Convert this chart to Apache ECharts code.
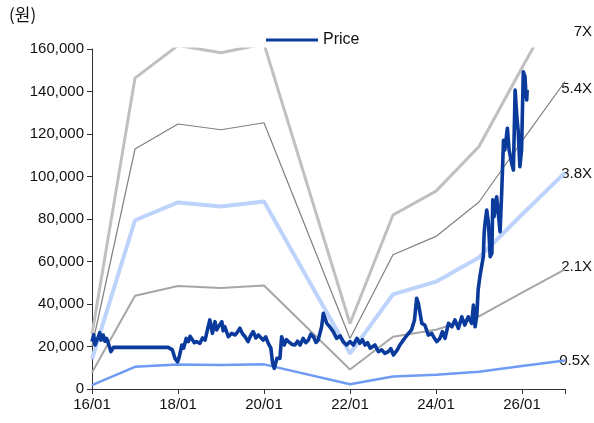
<!DOCTYPE html>
<html>
<head>
<meta charset="utf-8">
<script src="https://cdn.jsdelivr.net/npm/echarts@6/dist/echarts.min.js"></script>
<style>html,body{margin:0;padding:0;background:#fff}#c{width:594px;height:423px}</style>
</head>
<body>
<div id="c"></div>
<script>
// Band anchor dates (decimal year, Jan of each year)
const bandYears = [2016, 2017, 2018, 2019, 2020, 2022, 2023, 2024, 2025, 2026, 2027];
const band7x  = [25900, 146300, 161700, 158200, 162400, 30800, 81900, 93100, 114100, 151200, 187600];
const band54x = [20000, 112900, 124700, 122000, 125300, 23800, 63200, 71800, 88000, 116600, 144700];
const band38x = [14100, 79400, 87800, 85900, 88200, 16700, 44500, 50500, 61900, 82100, 101800];
const band21x = [7800, 43900, 48500, 47500, 48700, 9200, 24600, 27900, 34200, 45400, 56300];
const band05x = [1850, 10450, 11550, 11300, 11600, 2200, 5850, 6650, 8150, 10800, 13400];
const bandLabels = ['7X', '5.4X', '3.8X', '2.1X', '0.5X'];

// Price (decimal year, won)
const priceDates = [2016.00,2016.04,2016.07,2016.11,2016.15,2016.18,2016.21,2016.26,2016.30,2016.34,2016.38,2016.44,2016.50,2017.77,2017.87,2017.93,2017.99,2018.03,2018.09,2018.13,2018.19,2018.24,2018.28,2018.32,2018.38,2018.43,2018.51,2018.57,2018.63,2018.68,2018.74,2018.80,2018.86,2018.90,2018.94,2019.02,2019.05,2019.09,2019.17,2019.25,2019.33,2019.39,2019.44,2019.50,2019.56,2019.63,2019.69,2019.75,2019.81,2019.87,2019.98,2020.04,2020.10,2020.16,2020.20,2020.24,2020.30,2020.37,2020.41,2020.47,2020.52,2020.57,2020.65,2020.72,2020.78,2020.84,2020.91,2020.97,2021.03,2021.09,2021.15,2021.21,2021.26,2021.34,2021.38,2021.46,2021.53,2021.61,2021.69,2021.77,2021.84,2021.92,2022.00,2022.08,2022.16,2022.23,2022.29,2022.35,2022.41,2022.47,2022.58,2022.66,2022.74,2022.81,2022.89,2022.95,2023.01,2023.10,2023.16,2023.24,2023.33,2023.43,2023.50,2023.55,2023.59,2023.67,2023.74,2023.82,2023.90,2023.96,2024.02,2024.09,2024.15,2024.21,2024.29,2024.37,2024.44,2024.52,2024.60,2024.67,2024.75,2024.83,2024.87,2024.91,2024.95,2024.98,2025.02,2025.06,2025.10,2025.12,2025.14,2025.18,2025.22,2025.26,2025.30,2025.32,2025.35,2025.41,2025.49,2025.53,2025.57,2025.60,2025.66,2025.70,2025.76,2025.80,2025.84,2025.88,2025.91,2025.95,2025.99,2026.03,2026.07,2026.09,2026.11,2026.12];
const priceValues = [22300,25500,20700,22800,24600,26500,23000,25400,22500,23800,21500,17600,19600,19600,18400,14400,12800,15200,20700,19200,23800,22300,24800,24600,21800,22300,21500,24000,23000,27500,32500,26200,31700,27800,29300,31700,27400,29300,24600,26200,25400,27000,28600,26000,24600,22300,25200,27000,24000,25400,23000,24500,21500,19200,12100,9700,14400,14400,24600,20700,23200,22300,21000,20700,22500,20700,23800,21800,23000,25800,24600,21900,23000,29300,35600,30900,29300,27000,23800,25000,22300,20700,22300,20700,23800,21500,23200,20700,21800,19200,20700,17600,18400,16800,17600,19000,16000,18400,20700,23000,25400,27800,32500,42700,40300,30900,30100,25400,26200,24000,22300,23800,27000,23800,30900,29300,32500,28500,34000,30100,34000,30900,39500,29300,34800,46600,52800,57600,62300,73300,78000,84200,78000,62300,63900,89000,81100,90500,74000,93600,117000,112500,122700,112500,106200,103000,140700,128100,121900,104600,112500,149300,147000,139100,136000,140700];

function pairs(xs, ys) { return xs.map((x, i) => [x, ys[i]]); }

const chart = echarts.init(document.getElementById('c'), null, {renderer: 'canvas'});
const FONT = 'Liberation Sans, Arial, sans-serif';

function band(name, data, color, width, z) {
  return {
    name: name, type: 'line', data: pairs(bandYears, data), symbol: 'none',
    lineStyle: {color: color, width: width}, itemStyle: {color: color},
    clip: true, z: z, silent: true, animation: false
  };
}

chart.setOption({
  animation: false,
  grid: {left: 92, right: 29, top: 49, bottom: 34, containLabel: false},
  legend: {
    data: [{name: 'Price', icon: 'rect'}], left: 261, top: 27, itemWidth: 52, itemHeight: 3, itemGap: 5,
    textStyle: {fontFamily: FONT, fontSize: 16, color: '#111'}
  },
  xAxis: {
    type: 'value', min: 2016, max: 2027, interval: 2,
    axisLine: {show: true, lineStyle: {color: '#333', width: 1}},
    axisTick: {show: true, length: 5, lineStyle: {color: '#333'}},
    splitLine: {show: false},
    axisLabel: {
      fontFamily: FONT, fontSize: 15, color: '#111', margin: 8,
      formatter: v => (v === 2027 ? '' : String(v % 100).padStart(2, '0') + '/01')
    }
  },
  yAxis: {
    type: 'value', min: 0, max: 160000, interval: 20000,
    axisLine: {show: true, lineStyle: {color: '#333', width: 1}},
    axisTick: {show: true, length: 5, lineStyle: {color: '#333'}},
    splitLine: {show: false},
    axisLabel: {
      fontFamily: FONT, fontSize: 15, color: '#111', margin: 8,
      formatter: v => v.toLocaleString('en-US')
    }
  },
  graphic: [
    {type: 'text', left: 9, top: 6, style: {text: '(원)', font: '17px "Noto Sans CJK KR", sans-serif', fill: '#111'}},
    {type: 'text', right: 2, top: 24, style: {text: bandLabels[0], font: '15px ' + FONT, fill: '#111'}},
    {type: 'text', right: 2, top: 81, style: {text: bandLabels[1], font: '15px ' + FONT, fill: '#111'}},
    {type: 'text', right: 2, top: 166, style: {text: bandLabels[2], font: '15px ' + FONT, fill: '#111'}},
    {type: 'text', right: 2, top: 259, style: {text: bandLabels[3], font: '15px ' + FONT, fill: '#111'}},
    {type: 'text', right: 4, top: 353, style: {text: bandLabels[4], font: '15px ' + FONT, fill: '#111'}}
  ],
  series: [
    band('7X', band7x, '#c0c0c0', 3, 2),
    band('5.4X', band54x, '#7f7f7f', 1.2, 2),
    band('3.8X', band38x, '#bdd3fb', 4, 2),
    band('2.1X', band21x, '#a6a6a6', 2, 2),
    band('0.5X', band05x, '#6f9bf5', 2.5, 2),
    {
      name: 'Price', type: 'line', data: pairs(priceDates, priceValues), symbol: 'none',
      lineStyle: {color: '#0a3a9c', width: 3.6, join: 'round'}, itemStyle: {color: '#0a3a9c'},
      z: 5, clip: true
    }
  ]
});
</script>
</body>
</html>
